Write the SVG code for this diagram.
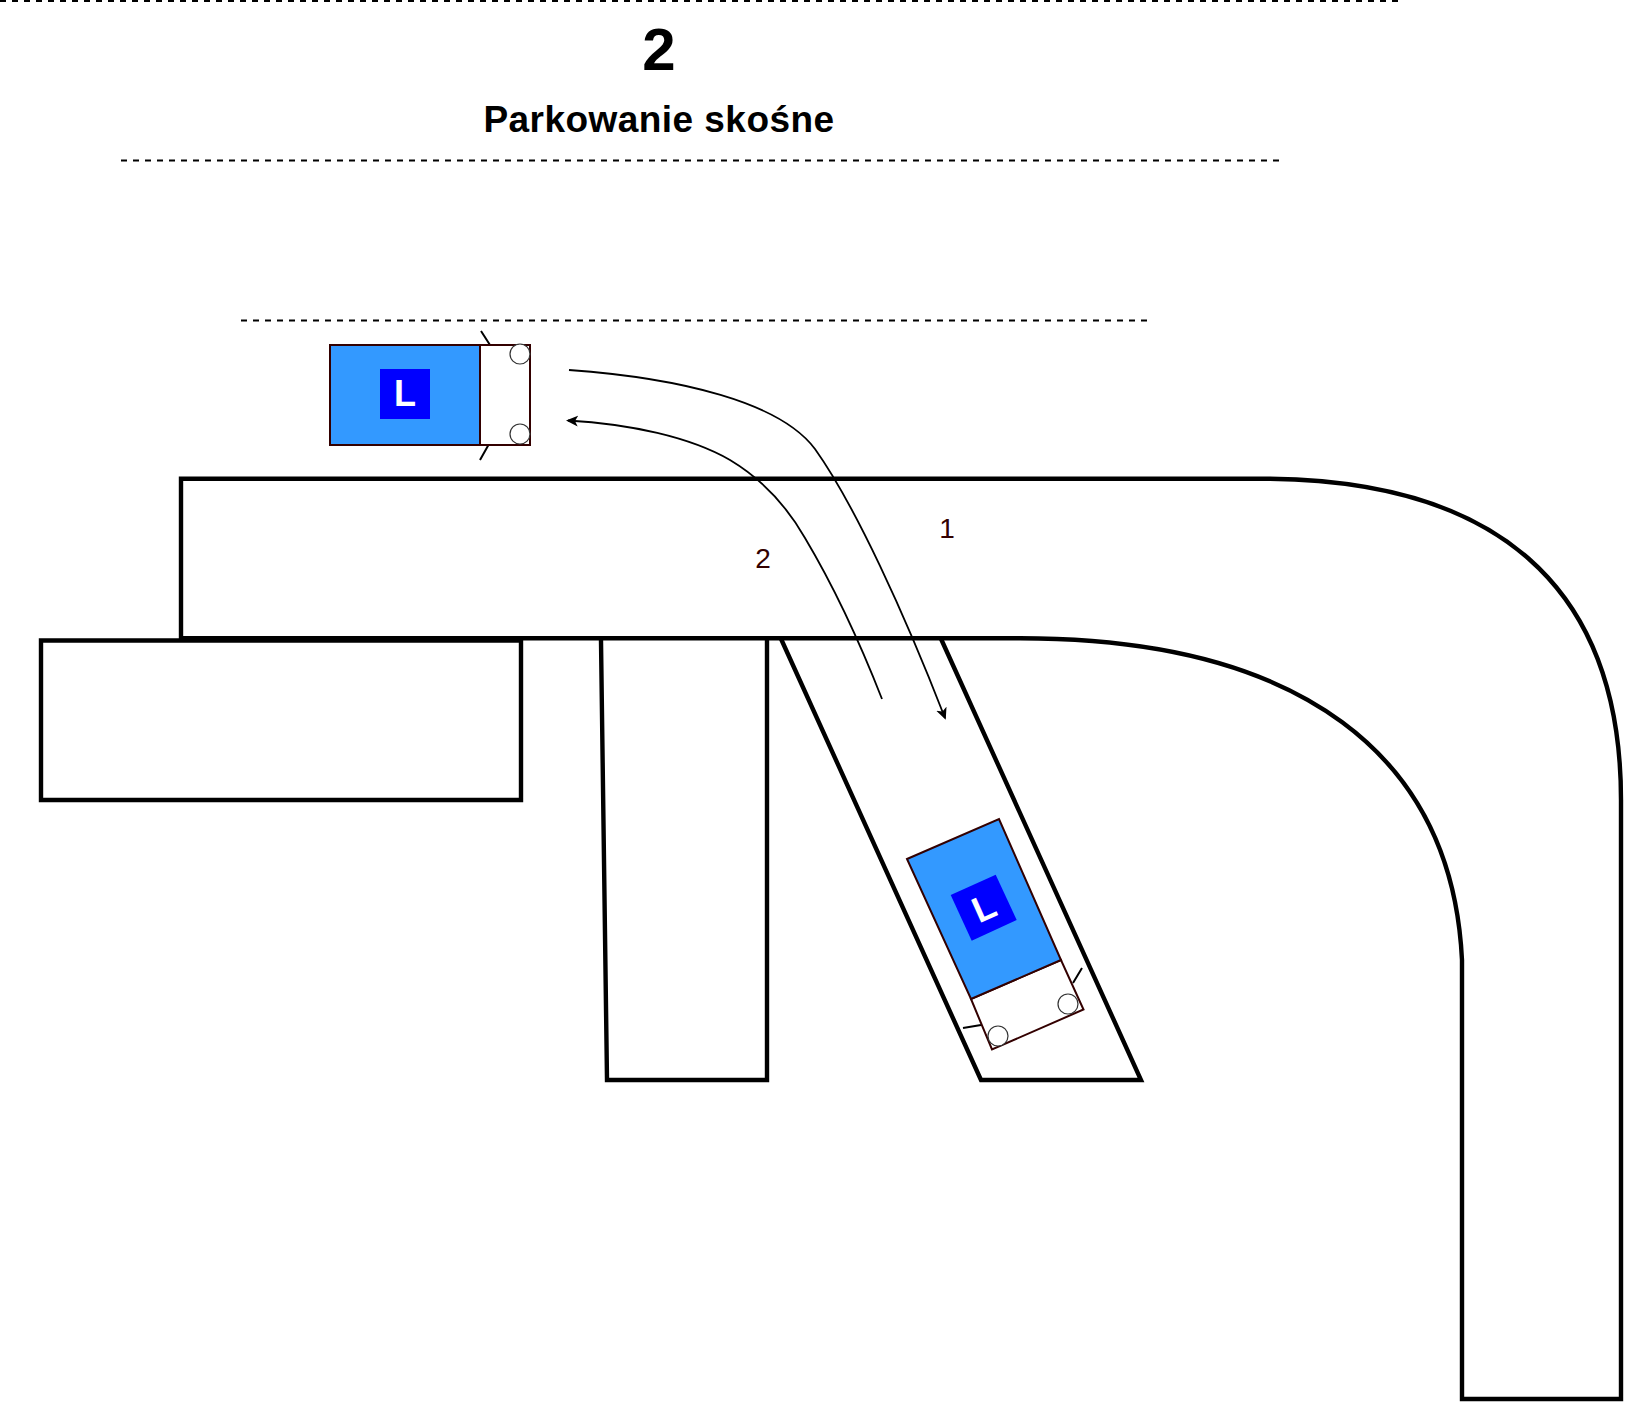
<svg xmlns="http://www.w3.org/2000/svg" width="1627" height="1405" viewBox="0 0 1627 1405">
<defs>
<marker id="arrow" markerWidth="13" markerHeight="12" refX="10" refY="5.500" orient="auto" markerUnits="userSpaceOnUse"><path d="M12 5.500L0 0L3 5.500L0 11Z" fill="#000"/></marker>
</defs>
<style>
text{font-family:"Liberation Sans",Arial,sans-serif}
.dash{stroke:#000;stroke-width:2;stroke-dasharray:6 6;fill:none}
.wall{stroke:#000;stroke-width:4.400;fill:none;stroke-linecap:square}
.body{fill:#fff;stroke:#330000;stroke-width:2}
.blue{fill:#3399ff;stroke:#330000;stroke-width:2}
.sq{fill:#0000ff}
.wheel{fill:#fff;stroke:#333;stroke-width:1.200}
.mirror{stroke:#000;stroke-width:2;fill:none}
.route{stroke:#000;stroke-width:1.800;fill:none}
.lbl{fill:#330000;font-size:28px;text-anchor:middle}
.plate{fill:#fff;font-size:36px;font-weight:bold;text-anchor:middle}
.title{fill:#000;font-weight:bold;text-anchor:middle}
</style>
<rect width="1627" height="1405" fill="#fff"/>
<g id="guides">
<path class="dash" d="M0 1H1400"/>
<path class="dash" d="M121 160.500H1280"/>
<path class="dash" d="M241 320.500H1148"/>
</g>
<g id="road">
<path class="wall" d="M181 638.300V478.700H1261C1495 478.700 1621 585 1621 800V1399H1462V960C1452 755 1300 638.300 1020 638.300H181Z"/>
</g>
<g id="bay-left"><path class="wall" d="M41 640.500V800H521V640.500H41Z"/></g>
<g id="bay-middle"><path class="wall" d="M601 641L607 1080H767V641"/></g>
<g id="bay-angled"><path class="wall" d="M782 641L981 1080H1141L942 641"/></g>
<g id="car-top">
<path class="mirror" d="M481 331L490 345M480 460L489 444"/>
<rect class="body" x="330" y="345" width="200" height="100"/>
<rect class="blue" x="330" y="345" width="150" height="100"/>
<rect class="sq" x="380" y="369" width="50" height="50"/>
<text class="plate" x="405" y="406">L</text>
<circle class="wheel" cx="520" cy="354" r="10"/>
<circle class="wheel" cx="520" cy="434" r="10"/>
</g>
<g id="car-parked">
<path class="mirror" d="M1082 968L1073 983M963 1028L981 1025"/>
<polygon class="body" points="971,999 1061,960 1083.500,1009.500 992,1049.500"/>
<polygon class="blue" points="907,859 999,819 1061,960 971,999"/>
<polygon class="sq" points="950.700,895 995.700,874.700 1016.700,920 971.700,940.700"/>
<text class="plate" transform="translate(984 907.500) rotate(-24)" y="12.500">L</text>
<circle class="wheel" cx="1068" cy="1004" r="10"/>
<circle class="wheel" cx="998" cy="1036" r="10"/>
</g>
<g id="connectors">
<path class="route" marker-end="url(#arrow)" d="M569 370C680 378 780 402 815 449C855 505 905 615 945 718"/>
<path class="route" marker-end="url(#arrow)" d="M882 699C855 630 830 580 805 538C785 503 760 478 730 460C690 437 630 424 568 420.500"/>
</g>
<g id="labels">
<text class="title" x="659" y="70" font-size="60">2</text>
<text class="title" x="659" y="132" font-size="37" letter-spacing="0.450">Parkowanie skośne</text>
<text class="lbl" x="947" y="538">1</text>
<text class="lbl" x="763" y="568">2</text>
</g>
</svg>
